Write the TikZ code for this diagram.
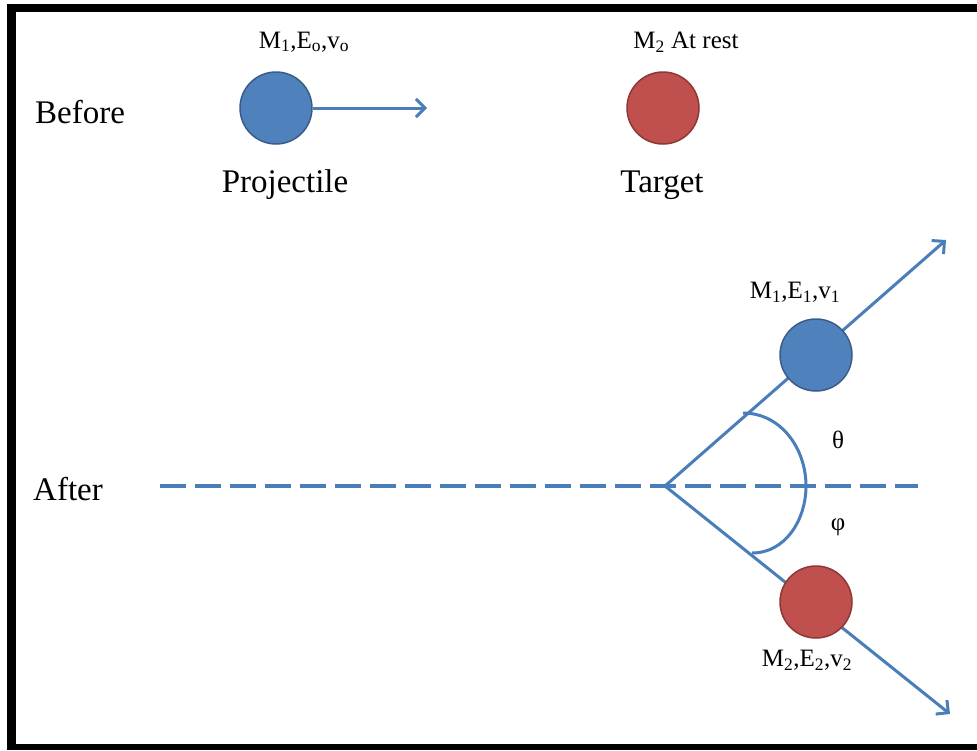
\documentclass[tikz,border=0pt]{standalone}
\usepackage{fontspec}
\setmainfont{Liberation Serif}
\usetikzlibrary{arrows.meta}
\definecolor{lineblue}{HTML}{4A7EBB}
\definecolor{ballblue}{HTML}{4F81BD}
\definecolor{edgeblue}{HTML}{385D8A}
\definecolor{ballred}{HTML}{C0504D}
\definecolor{edgered}{HTML}{8C3836}
\begin{document}
\begin{tikzpicture}[x=1pt,y=-1pt,
	bigtext/.style={font=\fontsize{33}{38}\selectfont},
	smalltext/.style={font=\fontsize{25}{30}\selectfont},
	blueball/.style={circle,fill=ballblue,draw=edgeblue,line width=1.5pt,minimum size=72pt,inner sep=0pt},
	redball/.style={circle,fill=ballred,draw=edgered,line width=1.5pt,minimum size=72pt,inner sep=0pt},
	path/.style={draw=lineblue,line width=3pt},
	vec/.style={path,-{Straight Barb[length=9pt,width=18pt,line width=3pt]}}]
	\useasboundingbox (0,0) rectangle (977,750);
	% Frame
	\fill [black] (7,4) rectangle (977,12);
	\fill [black] (7,4) rectangle (16,750);
	\fill [black] (7,744) rectangle (977,750);
	% Before
	\node [bigtext] (before) at (80,112) {Before};
	\node [blueball] (proj) at (276,108) {};
	\coordinate (projtip) at (427,108);
	\draw [vec] (proj.east) -- (projtip);
	\node [smalltext] (projlab) at (304,42) {M\textsubscript{1},E\textsubscript{o},v\textsubscript{o}};
	\node [bigtext] (projname) at (285,185) {Projectile};
	\node [redball] (targ) at (663,108) {};
	\node [smalltext] (targlab) at (686,42) {M\textsubscript{2} At rest};
	\node [bigtext] (targname) at (662,185) {Target};
	% After
	\node [bigtext] (after) at (68,489) {After};
	\coordinate (vert) at (665,486);
	\coordinate (axisend) at (918,486);
	\draw [path,line width=3.5pt,dash pattern=on 26pt off 9pt] (160,486) -- (vert) -- (axisend);
	\coordinate (tipone) at (946,240);
	\coordinate (tiptwo) at (950,714);
	\draw [vec] (vert) -- (tipone);
	\draw [vec] (vert) -- (tiptwo);
	% Angle
	\draw [path] (743,413) to [out=0,in=90] (806,486) to [out=-90,in=0] (752,553);
	\node [smalltext] (theta) at (838,440) {θ};
	\node [smalltext] (phi) at (838,527) {φ};
	% Balls after
	\node [blueball] (projafter) at (816,355) {};
	\node [smalltext] (projafterlab) at (795,292) {M\textsubscript{1},E\textsubscript{1},v\textsubscript{1}};
	\node [redball] (targafter) at (816,602) {};
	\node [smalltext] (targafterlab) at (807,660) {M\textsubscript{2},E\textsubscript{2},v\textsubscript{2}};
\end{tikzpicture}
\end{document}
